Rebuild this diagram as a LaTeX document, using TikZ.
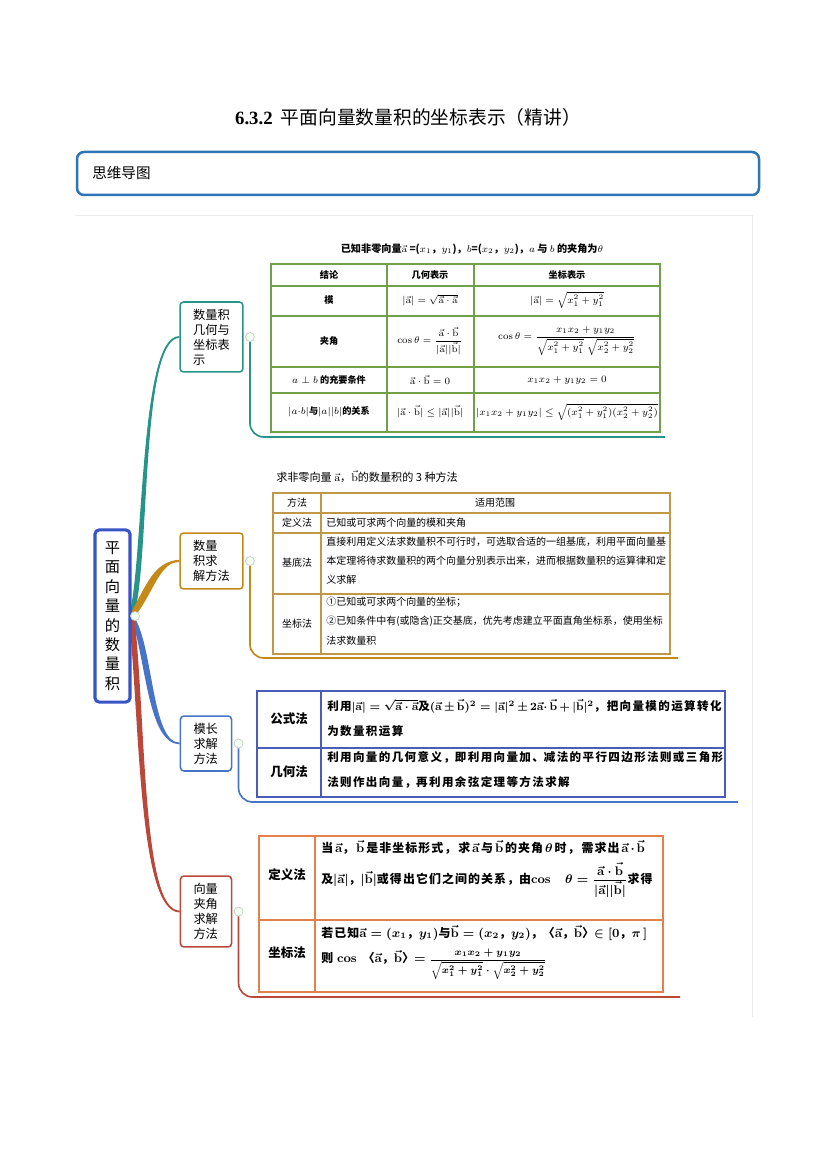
\documentclass[tikz,border=0pt]{standalone}
\usepackage{amsmath,amssymb}
\usepackage[no-math]{fontspec}
\setmainfont{Noto Sans CJK SC}
\newfontfamily\titlerm{Liberation Serif}
\newfontfamily\widecjk[LetterSpace=12]{Noto Sans CJK SC}
\newfontfamily\midcjk[LetterSpace=9]{Noto Sans CJK SC}
\usetikzlibrary{positioning}
\pgfdeclarelayer{back}
\pgfsetlayers{back,main}

\definecolor{headblue}{RGB}{46,117,182}
\definecolor{rootblue}{RGB}{56,84,196}
\definecolor{tealbr}{RGB}{38,148,136}
\definecolor{goldbr}{RGB}{196,138,24}
\definecolor{bluebr}{RGB}{72,116,200}
\definecolor{redbr}{RGB}{186,72,58}
\definecolor{tabgreen}{RGB}{112,160,72}
\definecolor{tabgold}{RGB}{192,152,72}
\definecolor{tabblue}{RGB}{72,92,184}
\definecolor{taborange}{RGB}{226,128,78}

\newcommand{\veca}{\vec{\mathrm{a}}}
\newcommand{\vecb}{\vec{\mathrm{b}}}
\newcommand{\fsz}[2]{\fontsize{#1}{#2}\selectfont}
\newcommand{\fillto}[2]{\makebox[#1][s]{#2}}

\begin{document}
\begin{tikzpicture}[x=0.7203pt,y=-0.7203pt,
  branch/.style={draw=#1,line width=1.1pt,rounded corners=2.5pt,fill=white,
    align=left,inner xsep=9.4pt,inner ysep=0pt,font=\fsz{8.8}{10.8}},
  knob/.style={circle,draw=black!22,fill=green!6,line width=0.5pt,
    inner sep=0pt,minimum size=6.5pt},
  stem/.style={draw=#1,line width=1.2pt,rounded corners=10pt},
  tabline/.style={draw=#1,line width=1pt},
  cell/.style={inner sep=0pt},
  lcell/.style={inner sep=0pt,anchor=west}]
\useasboundingbox (0,0) rectangle (826,1168);

% title and header bar
\node[font=\fsz{13.5}{16}] (title) at (408,117)
  {{\titlerm\bfseries 6.3.2}\hspace{6pt}平面向量数量积的坐标表示（精讲）};
\draw[headblue,line width=1.8pt,rounded corners=5pt] (77,152) rectangle (759,195);
\node[lcell,font=\fsz{10.5}{12}] (maptag) at (92,173) {思维导图};
\draw[black!8,line width=0.6pt] (75,215) -- (752,215) -- (752,1017);

% root and branches
\node[draw=rootblue,line width=2.2pt,rounded corners=3pt,fill=white,
  minimum width=25.2pt,minimum height=124pt,inner sep=0pt,align=center,
  text width=11pt,font=\fsz{11}{14}] (root) at (112.5,616)
  {平\\面\\向\\量\\的\\数\\量\\积};
\node[branch=tealbr,text width=26.5pt,minimum height=50.4pt] (geo) at (211.5,337)
  {数量积\\几何与\\坐标表\\示};
\node[branch=goldbr,text width=26.5pt,minimum height=40.3pt] (calc) at (211.5,561)
  {数量\\积求\\解方法};
\node[branch=bluebr,text width=18pt,minimum height=39.6pt] (modl) at (206,743.5)
  {模长\\求解\\方法};
\node[branch=redbr,text width=18pt,minimum height=51.1pt] (angl) at (206,911.5)
  {向量\\夹角\\求解\\方法};

\begin{pgfonlayer}{back}
\fill[tealbr] ([xshift=-1.8pt]root.east) .. controls (144,560) and (139,337) .. (geo.west)
  .. controls (141,337) and (150,560) .. ([xshift=1.8pt]root.east) -- cycle;
\draw[tealbr,line width=1.3pt] (root.east) .. controls (146,560) and (140,337) .. (geo.west);
\fill[goldbr] ([yshift=3pt]root.east) .. controls (146,585) and (156,559) .. (calc.west)
  .. controls (158,563) and (152,598) .. ([yshift=-3pt]root.east) -- cycle;
\draw[goldbr,line width=1.6pt] (root.east) .. controls (150,590) and (157,561) .. (calc.west);
\fill[bluebr] ([yshift=2pt]root.east) .. controls (154,640) and (150,741) .. (modl.west)
  .. controls (148,745) and (146,660) .. ([yshift=-2pt]root.east) -- cycle;
\draw[bluebr,line width=1.3pt] (root.east) .. controls (150,660) and (150,743) .. (modl.west);
\fill[redbr] ([xshift=-2pt]root.east) .. controls (140,720) and (138,913) .. (angl.west)
  .. controls (142,911) and (146,720) .. ([xshift=2pt]root.east) -- cycle;
\draw[redbr,line width=1.3pt] (root.east) .. controls (142,720) and (140,912) .. (angl.west);
\end{pgfonlayer}

\node[knob,right=-1pt of root] (rk) {};
\node[knob,right=1pt of geo] (k1) {};
\node[knob,right=1pt of calc] (k2) {};
\node[knob,right=1pt of modl] (k3) {};
\node[knob,right=1pt of angl] (k4) {};

\coordinate (e1) at (665,437);
\coordinate (e2) at (678,658);
\coordinate (e3) at (738,802);
\coordinate (e4) at (680,997);
\draw[stem=tealbr] (k1.south) |- (e1);
\draw[stem=goldbr] (k2.south) |- (e2);
\draw[stem=bluebr] (k3.south) |- (e3);
\draw[stem=redbr] (k4.south) |- (e4);

% table 1
\draw[tabline=tabgreen,line width=1.4pt] (271,264) rectangle (660,432);
\foreach \y in {286,316,367,393}
  \draw[tabline=tabgreen] (271,\y) -- (660,\y);
\foreach \x in {387,474}
  \draw[tabline=tabgreen] (\x,264) -- (\x,432);
\node[font=\fsz{7.3}{8}\bfseries] (cap1) at (472,249)
  {已知非零向量$\veca$ =($x_1$，$y_1$)，$b$=($x_2$，$y_2$)，$a$ 与 $b$ 的夹角为$\theta$};
\foreach \n/\x/\y/\txt in {
  h1/329/275/{结论}, h2/430/275/{几何表示}, h3/567/275/{坐标表示},
  m1/329/300/{模}, m2/430/300/{$|\veca|=\sqrt{\veca\cdot\veca}$},
  m3/567/300/{$|\veca|=\sqrt{x_1^2+y_1^2}$},
  j1/329/341/{夹角}, j2/430/341/{$\cos\theta=\dfrac{\veca\cdot\vecb}{|\veca||\vecb|}$},
  j3/567/341/{$\cos\theta=\dfrac{x_1x_2+y_1y_2}{\sqrt{x_1^2+y_1^2}\;\sqrt{x_2^2+y_2^2}}$},
  p1/329/380/{$a\perp b$ 的充要条件}, p2/430/380/{$\veca\cdot\vecb=0$},
  p3/567/380/{$x_1x_2+y_1y_2=0$},
  r1/329/412/{$|a{\cdot}b|$与$|a||b|$的关系}, r2/430/412/{$|\veca\cdot\vecb|\le|\veca||\vecb|$},
  r3/567/412/{$|x_1x_2+y_1y_2|\le\sqrt{(x_1^2+y_1^2)(x_2^2+y_2^2)}$}}
  \node[cell,font=\fsz{6.6}{8}\bfseries] (\n) at (\x,\y) {\txt};

% table 2
\node[lcell,font=\fsz{8}{10}] (cap2) at (276,477)
  {求非零向量 $\veca$，$\vecb$的数量积的 3 种方法};
\draw[tabline=tabgold,line width=1.4pt] (273,493) rectangle (670,654);
\foreach \y in {513,533,594}
  \draw[tabline=tabgold] (273,\y) -- (670,\y);
\draw[tabline=tabgold] (321,493) -- (321,654);
\foreach \n/\x/\y/\txt in {
  fa/297/503/{方法}, fw/495/503/{适用范围}, dy/297/523/{定义法},
  jd/297/563/{基底法}, zb/297/624/{坐标法}}
  \node[cell,font=\fsz{7.2}{9}] (\n) at (\x,\y) {\txt};
\foreach \n/\y/\txt in {
  dy1/523/{已知或可求两个向量的模和夹角},
  jd1/542/{直接利用定义法求数量积不可行时，可选取合适的一组基底，利用平面向量基},
  jd2/561/{本定理将待求数量积的两个向量分别表示出来，进而根据数量积的运算律和定},
  jd3/580/{义求解},
  zb1/602/{①已知或可求两个向量的坐标；},
  zb2/621/{②已知条件中有(或隐含)正交基底，优先考虑建立平面直角坐标系，使用坐标},
  zb3/641/{法求数量积}}
  \node[lcell,font=\fsz{7.2}{9}] (\n) at (326,\y) {\txt};

% table 3
\draw[tabline=tabblue,line width=1.4pt] (257,691) rectangle (725,797);
\draw[tabline=tabblue] (257,748) -- (725,748);
\draw[tabline=tabblue] (321,691) -- (321,797);
\node[cell,font=\fsz{9}{11}\bfseries] (gsf) at (289,719) {公式法};
\node[cell,font=\fsz{9}{11}\bfseries] (jhf) at (289,772) {几何法};
\begin{scope}[font=\widecjk\bfseries\boldmath\fsz{8.3}{10}]
\node[lcell] (gs1) at (327,706) {\fillto{284pt}{利用\hfil$|\veca|=\sqrt{\veca\cdot\veca}$\hfil
  及\hfil$(\veca\pm\vecb)^2=|\veca|^2\pm2\veca$\hfil$\boldsymbol{\cdot}\,\vecb+|\vecb|^2$，把向量模的运算转化}};
\node[lcell] (gs2) at (327,731) {为数量积运算};
\node[lcell] (jh1) at (327,757) {\fillto{284pt}{利用向量的几何意义，\hfil 即利用向量加、\hfil 减法的平行四边形法则或三角形}};
\node[lcell] (jh2) at (327,782) {法则作出向量，\hfil 再利用余弦定理等方法求解};
\end{scope}

% table 4
\draw[tabline=taborange,line width=1.4pt] (259,836) rectangle (663,992);
\draw[tabline=taborange] (259,920) -- (663,920);
\draw[tabline=taborange] (315,836) -- (315,992);
\node[cell,font=\fsz{9}{11}\bfseries] (dyf) at (287,875) {定义法};
\node[cell,font=\fsz{9}{11}\bfseries] (zbf) at (287,953) {坐标法};
\begin{scope}[font=\midcjk\bfseries\boldmath\fsz{8.6}{10}]
\node[lcell] (dy1x) at (321,847) {\fillto{233pt}{当\hfil$\veca$，\hfil$\vecb$\hfil 是非坐标形式，\hfil 求\hfil$\veca$\hfil 与\hfil$\vecb$\hfil
  的夹角\hfil$\theta$\hfil 时，\hfil 需求出\hfil$\veca$\hfil$\boldsymbol{\cdot}$\hfil$\vecb$}};
\node[lcell] (dy2x) at (321,880) {\fillto{235pt}{及$|\veca|$，\hfil$|\vecb|$\hfil 或得出它们之间的关系，\hfil 由\hfil
  $\cos\quad\theta=\dfrac{\veca\cdot\vecb}{|\veca||\vecb|}$\hfil 求得}};
\node[lcell] (zb1x) at (321,933) {\fillto{221pt}{若已知\hfil$\veca=(x_1$，\hfil$y_1)$\hfil 与\hfil$\vecb=(x_2$，\hfil$y_2)$，\hfil
  〈$\veca$，\hfil$\vecb$〉\hfil$\in[0$，\hfil$\pi\,]$}};
\node[lcell] (zb2x) at (321,964) {则 $\cos$\enspace〈$\veca$，$\vecb$〉$=$
  {\fsz{7}{8}$\dfrac{x_1x_2+y_1y_2}{\sqrt{x_1^2+y_1^2}\boldsymbol{\cdot}\sqrt{x_2^2+y_2^2}}$}};
\end{scope}
\end{tikzpicture}
\end{document}
